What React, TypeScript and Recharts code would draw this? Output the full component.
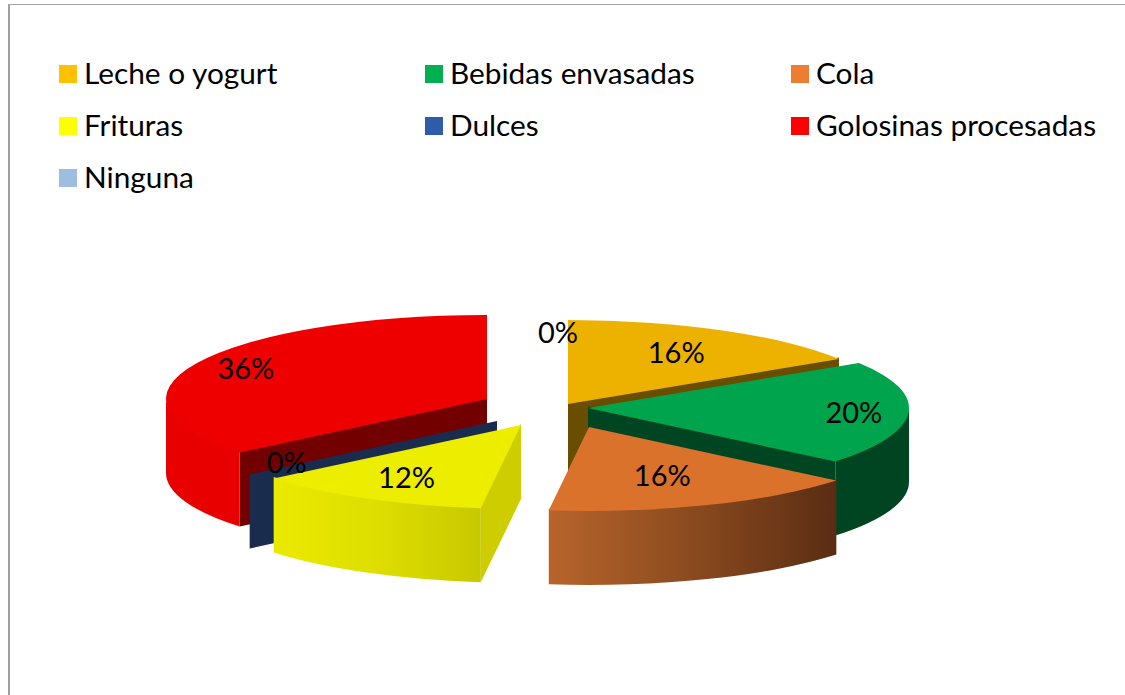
import React from "react";
import { PieChart, Pie, Legend } from "recharts";

const categories = ["Leche o yogurt", "Bebidas envasadas", "Cola", "Frituras", "Dulces", "Golosinas procesadas", "Ninguna"];
const shares = [16, 20, 16, 12, 0, 36, 0];
const legendColors = ["#FFC000", "#00B050", "#ED7D31", "#FFFF00", "#2F5CA8", "#FF0000", "#9DBDE1"];

const chartData = categories.map((name, i) => ({ name, value: shares[i], fill: legendColors[i] }));

// Drawing style (not data)
const W = 1125, H = 695;
const CX = 530, CY = 410, R = 321, RY = 84, DEPTH = 74;
const explodeDx = [38, 58, 59, -9, -33, -43, 28];
const explodeDy = [-6, -2, 17, 15, 11, -11, -6];
const topFill = ["#EDB100", "#00A44C", "#DA722C", "#EDED00", "#1A2C4E", "#EE0000", "#9DBDE1"];
const radialFill = ["#6A4E00", "#004522", "#6B3416", "#CDCD00", "#1A2C4E", "#720000", "#9DBDE1"];
const wallStops: string[][] = [
  ["#6A4E00", "#6A4E00"],
  ["#004522", "#004522"],
  ["#B8652C", "#8A4A1F", "#5A2D13"],
  ["#EAEA00", "#DEDE00", "#C8C800"],
  ["#1A2C4E", "#1A2C4E"],
  ["#E80000", "#E80000"],
  ["#9DBDE1", "#9DBDE1"],
];
const labelReachX = [0.7, 0.83, 0.62, 0.74, 0.85, 0.83, 0.0];
const labelReachY = [0.7, 0.82, 0.62, 0.71, 0.78, 0.84, 0.85];
const layerOf = [0, 1, 2, 2, 1, 0, 0];
const layers = [0, 1, 2];
const SEAM = 1.5;

const FONT = "Lato, sans-serif";

function pointAt(x0: number, y0: number, clock: number) {
  const a = (clock * Math.PI) / 180;
  return { x: x0 + R * Math.sin(a), y: y0 - RY * Math.cos(a) };
}

function SliceShape({ props, layer }: { props: any; layer: number }) {
  const i = categories.indexOf(props.name);
  if (i < 0 || layerOf[i] !== layer) return null;
  const c0 = 90 - props.startAngle;
  const c1 = 90 - props.endAngle;
  const x0 = props.cx + explodeDx[i];
  const y0 = props.cy + explodeDy[i];
  const p0 = pointAt(x0, y0, c0);
  const p1 = pointAt(x0, y0, c1);
  const large = c1 - c0 > 180 ? 1 : 0;
  const parts: React.ReactNode[] = [];

  const radial = (p: { x: number; y: number }, key: string) => (
    <path
      key={key}
      d={`M${x0},${y0 - (c1 > c0 ? SEAM : 0)} L${p.x},${p.y - (c1 > c0 ? SEAM : 0)} L${p.x},${p.y + DEPTH} L${x0},${y0 + DEPTH} Z`}
      fill={radialFill[i]}
    />
  );
  // Back-face test: the wall is visible when its outward normal points at the viewer.
  if (Math.cos(((c0 - 90) * Math.PI) / 180) < -1e-6) parts.push(radial(p0, "start"));
  if (Math.cos(((c1 + 90) * Math.PI) / 180) < -1e-6) parts.push(radial(p1, "end"));

  const w0 = Math.max(c0, 90);
  const w1 = Math.min(c1, 270);
  const gradId = `wall-${i}`;
  if (w1 > w0) {
    const a = pointAt(x0, y0, w0);
    const b = pointAt(x0, y0, w1);
    const xs = [a.x, b.x];
    const stops = wallStops[i];
    parts.push(
      <defs key="defs">
        <linearGradient id={gradId} gradientUnits="userSpaceOnUse" x1={Math.min(...xs)} x2={Math.max(...xs)} y1={0} y2={0}>
          {stops.map((s, k) => (
            <stop key={k} offset={k / (stops.length - 1)} stopColor={s} />
          ))}
        </linearGradient>
      </defs>,
    );
    parts.push(
      <path
        key="wall"
        d={`M${a.x},${a.y - SEAM} A${R},${RY} 0 0 1 ${b.x},${b.y - SEAM} L${b.x},${b.y + DEPTH} A${R},${RY} 0 0 0 ${a.x},${a.y + DEPTH} Z`}
        fill={`url(#${gradId})`}
      />,
    );
  }
  if (c1 > c0) {
    parts.push(
      <path
        key="top"
        d={`M${x0},${y0} L${p0.x},${p0.y} A${R},${RY} 0 ${large} 1 ${p1.x},${p1.y} Z`}
        fill={topFill[i]}
      />,
    );
  }
  return <g>{parts}</g>;
}

function SliceLabel(props: any) {
  const i = categories.indexOf(props.name);
  if (i < 0) return null;
  const a = ((90 - props.midAngle) * Math.PI) / 180;
  const x0 = props.cx + explodeDx[i];
  const y0 = props.cy + explodeDy[i];
  const x = x0 + R * labelReachX[i] * Math.sin(a);
  const y = y0 - RY * labelReachY[i] * Math.cos(a) - 1;
  return (
    <text x={x} y={y} textAnchor="middle" dominantBaseline="central" fontFamily={FONT} fontSize={29} fill="#000">
      {`${Math.round(props.percent * 100)}%`}
    </text>
  );
}

function LegendGrid({ payload }: any) {
  const seen = new Set<string>();
  const items = (payload || []).filter((p: any) => {
    if (seen.has(p.value)) return false;
    seen.add(p.value);
    return true;
  });
  return (
    <div style={{ position: "relative", height: 0 }}>
      {items.map((p: any, k: number) => {
        const col = k % 3;
        const row = Math.floor(k / 3);
        const left = 59 + col * 366;
        const top = 65 + row * 52;
        return (
          <div key={p.value}>
            <div style={{ position: "absolute", left, top, width: 18, height: 18, background: p.color }} />
            <div
              style={{
                position: "absolute",
                left: left + 25,
                top: top - 12,
                height: 40,
                lineHeight: "40px",
                fontFamily: FONT,
                fontSize: 29.8,
                color: "#000",
                whiteSpace: "nowrap",
              }}
            >
              {p.value}
            </div>
          </div>
        );
      })}
    </div>
  );
}

export default function App() {
  return (
    <div style={{ position: "absolute", left: 0, top: 0, width: W, height: H, overflow: "hidden", background: "#fff" }}>
      <div style={{ position: "absolute", left: 8, top: 4, width: W, height: H, borderLeft: "2px solid #a0a0a0", borderTop: "1px solid #a6a6a6" }} />
      <div style={{ position: "absolute", left: 0, top: 0 }}>
        <PieChart width={W} height={H} margin={{ top: 0, right: 0, bottom: 0, left: 0 }}>
          <Legend
            content={<LegendGrid />}
            itemSorter={null}
            wrapperStyle={{ position: "absolute", left: 0, top: 0, width: W, height: 0 }}
          />
          {layers.map((layer) => (
            <Pie
              key={layer}
              data={chartData}
              dataKey="value"
              nameKey="name"
              cx={CX}
              cy={CY}
              outerRadius={R}
              innerRadius={0}
              startAngle={90}
              endAngle={-270}
              stroke="none"
              isAnimationActive={false}
              labelLine={false}
              label={layer === 2 ? (p: any) => <SliceLabel {...p} /> : false}
              shape={(p: any) => <SliceShape props={p} layer={layer} />}
              legendType={layer === 0 ? "square" : "none"}
            />
          ))}
        </PieChart>
      </div>
    </div>
  );
}
